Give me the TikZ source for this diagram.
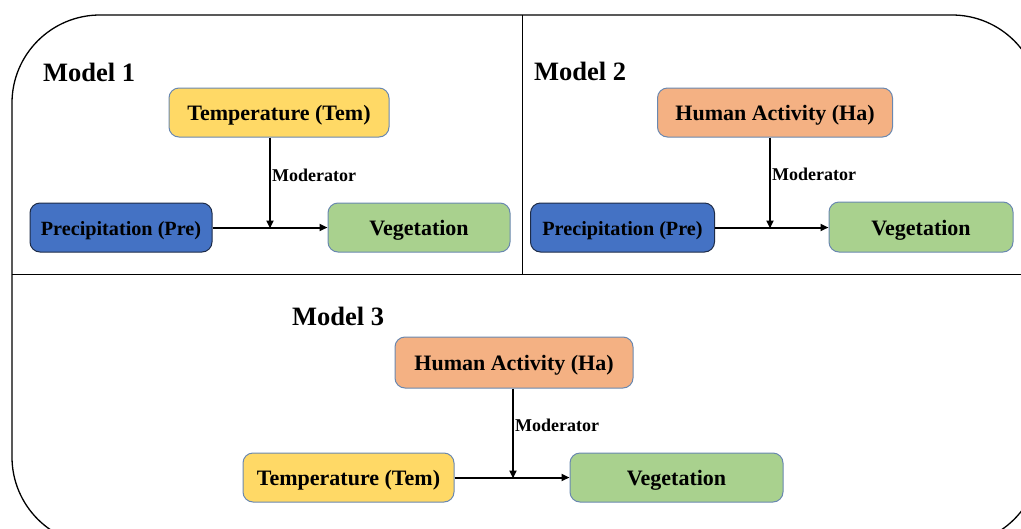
\documentclass[tikz,border=0pt]{standalone}
\usepackage{fontspec}
\setmainfont{Liberation Serif}
\usetikzlibrary{arrows.meta}
\definecolor{cyel}{HTML}{FFD966}
\definecolor{cora}{HTML}{F4B183}
\definecolor{cgre}{HTML}{A9D18E}
\definecolor{cblu}{HTML}{4472C4}
\definecolor{cbord}{HTML}{6A88B0}
\definecolor{cbordd}{HTML}{1E2C48}
\tikzset{
  box/.style={draw=cbord, line width=1pt, rounded corners=10pt, font=\fontsize{22}{24}\selectfont\bfseries, inner sep=0pt, align=center, text height=17pt, text depth=1pt},
  pbox/.style={box, draw=cbordd, fill=cblu, font=\fontsize{20.2}{22}\selectfont\bfseries, text height=16pt, text depth=1pt},
  title/.style={font=\fontsize{26.5}{28}\selectfont\bfseries, inner sep=0pt},
  modlab/.style={font=\fontsize{18}{20}\selectfont\bfseries, inner sep=0pt, anchor=west},
  arr/.style={line width=2pt, -{Triangle[length=8pt,width=7pt]}},
  frame/.style={line width=1.3pt},
  divider/.style={line width=1pt}
}
\begin{document}
\begin{tikzpicture}[x=1pt,y=-1pt]
\useasboundingbox (0,0) rectangle (1021,528);
\clip (0,0) rectangle (1021,528);
\fill[white] (0,0) rectangle (1021,528);
\draw[frame, rounded corners=88pt] (12,15) rectangle (1040,545);
\draw[divider] (12,274) -- (1021,274);
\draw[divider] (522,15) -- (522,274);

% Model 1
\node[title] (t1) at (89,72) {Model 1};
\node[box, fill=cyel, minimum width=220pt, minimum height=49pt] (tem1) at (279,112.5) {Temperature (Tem)};
\node[pbox, minimum width=182pt, minimum height=49pt] (pre1) at (121,227.5) {Precipitation (Pre)};
\node[box, fill=cgre, minimum width=182pt, minimum height=49pt] (veg1) at (419,227.5) {Vegetation};
\coordinate (c1) at (270,227.5);
\draw[arr] (pre1.east) -- (veg1.west);
\draw[arr] (tem1.south -| c1) -- ([yshift=-1pt]c1);
\node[modlab] (m1) at (272,175) {Moderator};

% Model 2
\node[title] (t2) at (580,71) {Model 2};
\node[box, fill=cora, minimum width=235pt, minimum height=49pt] (ha2) at (775,112.5) {Human Activity (Ha)};
\node[pbox, minimum width=184pt, minimum height=49pt] (pre2) at (622.5,227.5) {Precipitation (Pre)};
\node[box, fill=cgre, minimum width=184pt, minimum height=50pt] (veg2) at (921,227) {Vegetation};
\coordinate (c2) at (770,227.5);
\draw[arr] (pre2.east) -- (veg2.west |- pre2.east);
\draw[arr] (ha2.south -| c2) -- ([yshift=-1pt]c2);
\node[modlab] (m2) at (772,174) {Moderator};

% Model 3
\node[title] (t3) at (338,316) {Model 3};
\node[box, fill=cora, minimum width=238pt, minimum height=51pt] (ha3) at (514,362.5) {Human Activity (Ha)};
\node[box, fill=cyel, minimum width=211pt, minimum height=49pt] (tem3) at (348.5,477.5) {Temperature (Tem)};
\node[box, fill=cgre, minimum width=213pt, minimum height=49pt] (veg3) at (676.5,477.5) {Vegetation};
\coordinate (c3) at (513,477.5);
\draw[arr] (tem3.east) -- (veg3.west);
\draw[arr] (ha3.south -| c3) -- ([yshift=-1pt]c3);
\node[modlab] (m3) at (515,425) {Moderator};
\end{tikzpicture}
\end{document}
